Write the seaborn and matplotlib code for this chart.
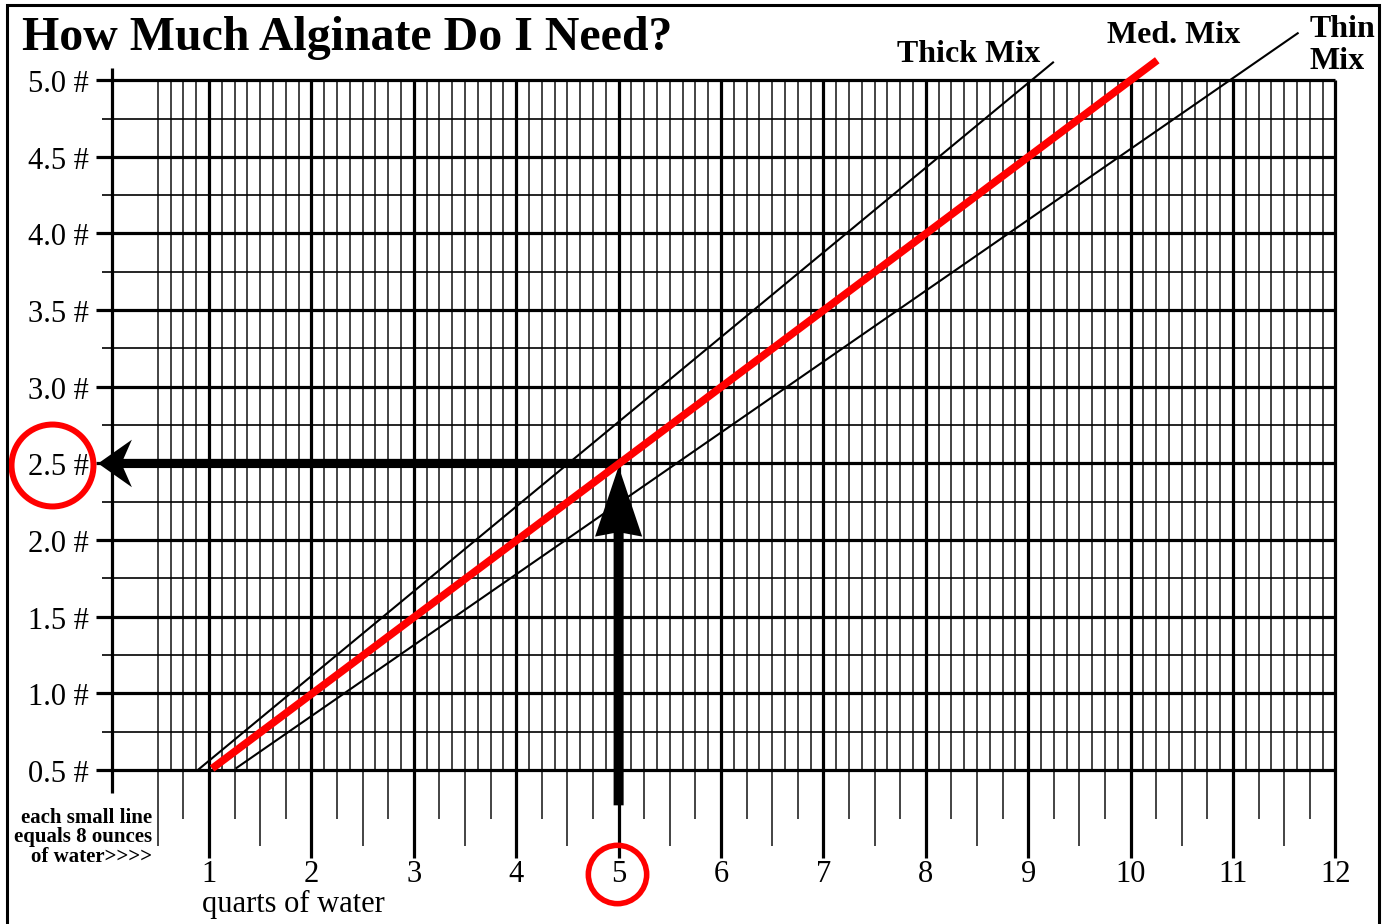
import numpy as np
import pandas as pd
import matplotlib
matplotlib.use("Agg")
import matplotlib.pyplot as plt
import seaborn as sns
from matplotlib.patches import Rectangle

# Chart data
quart_ticks = list(range(1, 13))
lbs_ticks = [0.5, 1.0, 1.5, 2.0, 2.5, 3.0, 3.5, 4.0, 4.5, 5.0]
lbs_labels = ["0.5 #", "1.0 #", "1.5 #", "2.0 #", "2.5 #",
              "3.0 #", "3.5 #", "4.0 #", "4.5 #", "5.0 #"]

thick_quarts = [0.89, 9.25]
thick_lbs = [0.50, 5.12]
med_quarts = [1.03, 10.26]
med_lbs = [0.51, 5.13]
thin_quarts = [1.26, 11.64]
thin_lbs = [0.51, 5.31]

example_quarts = 5
example_lbs = 2.5

note_lines = ["each small line", "equals 8 ounces", "of water>>>>"]

sns.set_style("white")
plt.rcParams["font.family"] = ["Liberation Serif", "DejaVu Serif"]
plt.rcParams["text.color"] = "black"

fig = plt.figure(figsize=(13.85, 9.24), dpi=100)
ax = fig.add_axes([0, 0, 1, 1])

# Grid: minor verticals every 1/8 quart, ticks below axis every 1/4 quart
minor_x = np.arange(0.5, 12, 0.125)
minor_x = minor_x[minor_x % 1 != 0]
ax.vlines(minor_x, 0.5, 5.0, color="#111111", lw=1.1, zorder=1)
quarter_x = minor_x[minor_x % 0.25 == 0]
half_x = quarter_x[quarter_x % 0.5 == 0]
qtr_only = quarter_x[quarter_x % 0.5 != 0]
ax.vlines(half_x, 0.005, 0.5, color="#111111", lw=1.1, zorder=1)
ax.vlines(qtr_only, 0.18, 0.5, color="#111111", lw=1.1, zorder=1)
ax.vlines(quart_ticks, -0.074, 5.0, color="black", lw=2.3, zorder=2)

minor_y = np.arange(0.75, 5.0, 0.5)
ax.hlines(minor_y, -0.045, 12, color="black", lw=1.2, zorder=1)
ax.hlines(lbs_ticks, -0.1, 12, color="black", lw=2.3, zorder=2)
ax.vlines(0.053, 0.35, 5.08, color="black", lw=2.3, zorder=2)

# Tick labels
for y, lab in zip(lbs_ticks, lbs_labels):
    ax.text(-0.172, y - 0.078, lab, ha="right", va="baseline", fontsize=22)
for x in quart_ticks:
    ax.text(x, -0.231, str(x), ha="center", va="baseline", fontsize=22)
ax.text(0.93, -0.426, "quarts of water", ha="left", va="baseline", fontsize=22)

for i, line in enumerate(note_lines):
    ax.text(0.443, 0.155 - i * 0.127, line, ha="right", va="baseline",
            fontsize=15, fontweight="bold")

# Mix lines
mixes = pd.DataFrame({
    "quarts": thick_quarts + med_quarts + thin_quarts,
    "lbs": thick_lbs + med_lbs + thin_lbs,
    "mix": ["Thick"] * 2 + ["Med"] * 2 + ["Thin"] * 2,
})
for name, color, width in [("Thick", "black", 1.5), ("Thin", "black", 1.5), ("Med", "#ff0000", 5.5)]:
    sub = mixes[mixes["mix"] == name]
    sns.lineplot(data=sub, x="quarts", y="lbs", color=color, lw=width,
                 ax=ax, zorder=5 if name == "Med" else 4,
                 solid_capstyle="butt", legend=False)
ax.set_xlim(-1.041, 12.484)
ax.set_ylim(-0.504, 5.523)
ax.axis("off")

ax.text(9.115, 5.119, "Thick Mix", ha="right", va="baseline", fontsize=23, fontweight="bold")
ax.text(10.415, 5.243, "Med. Mix", ha="center", va="baseline", fontsize=23, fontweight="bold")
ax.text(11.75, 5.282, "Thin", ha="left", va="baseline", fontsize=23, fontweight="bold")
ax.text(11.75, 5.073, "Mix", ha="left", va="baseline", fontsize=23, fontweight="bold")

# Example arrows
ax.arrow(example_quarts, example_lbs, -0.083 - example_quarts, 0,
         width=0.06, head_width=0.31, head_length=0.33, overhang=0.25,
         length_includes_head=True, fc="black", ec="none", lw=0, zorder=4)
ax.arrow(example_quarts, 0.27, 0, example_lbs - 0.02 - 0.27,
         width=0.098, head_width=0.46, head_length=0.457, overhang=0.05,
         length_includes_head=True, fc="black", ec="none", lw=0, zorder=4)

# Red circles around the answer and the input
ax.plot(-0.533, example_lbs - 0.01, marker="o", ms=59, mfc="none", mec="#ff0000",
        mew=4.3, zorder=6)
ax.plot(example_quarts - 0.015, -0.175, marker="o", ms=42, mfc="none", mec="#ff0000",
        mew=4.0, zorder=6)

ax.text(-0.83, 5.2, "How Much Alginate Do I Need?", ha="left", va="baseline",
        fontsize=34.5, fontweight="bold")

fig.add_artist(Rectangle((7 / 1385, -0.02), 1372 / 1385, 1.02 - 5 / 924,
                         transform=fig.transFigure, fill=False, ec="black", lw=2.2))

fig.savefig("out.png", dpi=100)
